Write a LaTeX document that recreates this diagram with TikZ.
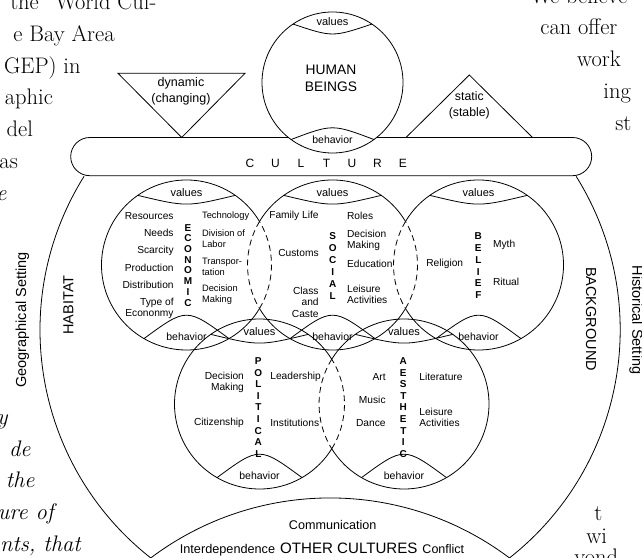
\documentclass[tikz,border=0pt]{standalone}
\usepackage{fontspec}
\newfontfamily\hv{Liberation Sans}
\usetikzlibrary{calc}
\newcommand\fsz[2]{\fontsize{#1}{#2}\selectfont}
\begin{document}
\begin{tikzpicture}[x=1pt,y=1pt,line width=0.8pt,
  every node/.style={inner sep=0pt},
  txl/.style={font={\hv\fsz{10.2}{11.3}}, anchor=east, align=right},
  txr/.style={font={\hv\fsz{10.2}{11.3}}, anchor=west, align=left},
  txs/.style={font={\hv\fsz{9.3}{11.2}}, anchor=west, align=left},
  vword/.style={font={\hv\bfseries\fsz{10}{11.6}}, align=center},
  capv/.style={font={\hv\fsz{11}{13}}},
  capb/.style={font={\hv\fsz{10.5}{13}}},
  lens/.style={dash pattern=on 6pt off 4pt},
  pagetxt/.style={font={\rmfamily\fsz{22.5}{26}}, anchor=base east},
  pageit/.style={font={\rmfamily\itshape\fsz{22.5}{26}}, anchor=base east},
  pagetxtr/.style={font={\rmfamily\fsz{22.5}{26}}, anchor=base west},
  side/.style={font={\hv\fsz{14.5}{16}}},
]
\useasboundingbox (0,0) rectangle (642,557);
\clip (0,0) rectangle (642,557);

% page text fragments
\node[pagetxt] (p1) at (156.7,547.7) {the “World Cul-};
\node[pagetxt] (p2) at (115,515.8) {e Bay Area};
\node[pagetxt] (p3) at (81,483.9) {GEP) in};
\node[pagetxt] (p4) at (53.3,452) {aphic};
\node[pagetxt] (p5) at (33.3,420.1) {del};
\node[pagetxt] (p6) at (18.3,388.2) {as};
\node[pageit] (p7) at (7,356.3) {e};
\node[pageit] (p8) at (8,132) {y};
\node[pageit] (p9) at (31,101) {de};
\node[pageit] (p10) at (35,69.2) {the};
\node[pageit] (p11) at (54,37.3) {ure of};
\node[pageit] (p12) at (81,5.4) {nts, that};
\node[pagetxtr] (q1) at (530,553) {We believe};
\node[pagetxtr] (q2) at (540,522) {can offer};
\node[pagetxtr] (q3) at (576.7,490) {work};
\node[pagetxtr] (q4) at (603,458) {ing};
\node[pagetxtr] (q5) at (615,426) {st};
\node[pagetxtr] (q6) at (594,37) {t};
\node[pagetxtr] (q7) at (586,14) {wi};
\node[pagetxtr] (q8) at (574,-7) {yond};

% culture band
\draw[rounded corners=19.1] (70.7,381.3) rectangle (591.7,419.5);
\node[font={\hv\fsz{12}{14}}] (culture) at (326.5,393.7)
  {\makebox[25.5pt]{C}\makebox[25.5pt]{U}\makebox[25.5pt]{L}\makebox[25.5pt]{T}\makebox[25.5pt]{U}\makebox[25.5pt]{R}\makebox[25.5pt]{E}};

% triangles
\draw (118,483.7) -- (245,483.7) -- (181.7,419.5) -- cycle;
\node[font={\hv\fsz{12.5}{16}}, align=center] (dyn) at (181,465.7) {dynamic\\(changing)};
\draw (406,419.5) -- (469.3,482) -- (532.5,419.5) -- cycle;
\node[font={\hv\fsz{12.3}{15.6}}, align=center] (sta) at (469.3,451.5) {static\\(stable)};

% bowl
\draw (84.07,380.68) arc[start angle=148, end angle=231.82, radius=290]
  arc[start angle=127, end angle=53, radius=298]
  arc[start angle=308.18, end angle=392, radius=290];

% human beings
\coordinate (hb) at (332.5,474.5);
\draw[fill=white] (hb) circle[radius=70.5];
\draw ($(hb)+(124:70.5)$) .. controls ($(hb)+(0,45.2)$) .. ($(hb)+(56:70.5)$);
\draw ($(hb)+(234:70.5)$) .. controls ($(hb)+(0,-41.4)$) .. ($(hb)+(306:70.5)$);
\node[capv] (hbv) at ($(hb)+(0,60.8)$) {values};
\node[capb] (hbb) at ($(hb)+(0,-57.5)$) {behavior};
\node[font={\hv\fsz{13.8}{16.7}}, align=center] (hbt) at (331,478.7) {HUMAN\\BEINGS};

% five circles
\coordinate (econ) at (186.5,292);
\coordinate (social) at (332.5,292);
\coordinate (belief) at (478.5,292);
\coordinate (polit) at (259.5,153);
\coordinate (aesth) at (404,153);

\draw (econ) ++(30.8:85) arc[start angle=30.8, end angle=329.2, radius=85];
\draw[lens] (econ) ++(-30.8:85) arc[start angle=-30.8, end angle=30.8, radius=85];
\draw (social) ++(30.8:85) arc[start angle=30.8, end angle=149.2, radius=85];
\draw (social) ++(210.8:85) arc[start angle=210.8, end angle=329.2, radius=85];
\draw[lens] (social) ++(149.2:85) arc[start angle=149.2, end angle=210.8, radius=85];
\draw[lens] (social) ++(-30.8:85) arc[start angle=-30.8, end angle=30.8, radius=85];
\draw (belief) ++(-149.2:85) arc[start angle=-149.2, end angle=149.2, radius=85];
\draw[lens] (belief) ++(149.2:85) arc[start angle=149.2, end angle=210.8, radius=85];
\draw (polit) ++(31.8:85) arc[start angle=31.8, end angle=328.2, radius=85];
\draw[lens] (polit) ++(-31.8:85) arc[start angle=-31.8, end angle=31.8, radius=85];
\draw (aesth) ++(-148.2:85) arc[start angle=-148.2, end angle=148.2, radius=85];
\draw[lens] (aesth) ++(148.2:85) arc[start angle=148.2, end angle=211.8, radius=85];

\foreach \c in {econ,social,belief,polit,aesth}{
  \draw ($(\c)+(125:85)$) .. controls ($(\c)+(0,58)$) .. ($(\c)+(55:85)$);
  \draw ($(\c)+(240:85)$) .. controls ($(\c)+(0,-42.4)$) .. ($(\c)+(300:85)$);
  \node[capv] (\c-v) at ($(\c)+(0,72.5)$) {values};
  \node[capb] (\c-b) at ($(\c)+(0,-72)$) {behavior};
}

% economic
\node[txl] (e1) at (174,341) {Resources};
\node[txl] (e2) at (174,324.3) {Needs};
\node[txl] (e3) at (174,306.3) {Scarcity};
\node[txl] (e4) at (174,288.7) {Production};
\node[txl] (e5) at (174,272) {Distribution};
\node[txl] (e6) at (174,248.7) {Type of\\Econonmy};
\node[txs] (e7) at (201.7,341.3) {Technology};
\node[txs] (e8) at (201.7,318.3) {Division of\\Labor};
\node[txs] (e9) at (201.7,290.3) {Transpor-\\tation};
\node[txs] (e10) at (201.7,262.5) {Decision\\Making};
\node[vword, font={\hv\bfseries\fsz{10}{10.7}}] (ew) at (188,291.8) {E\\C\\O\\N\\O\\M\\I\\C};

% social
\node[txl] (s1) at (319,341.3) {Family Life};
\node[txl] (s2) at (319,303.7) {Customs};
\node[txl, font={\hv\fsz{10.2}{11.2}}] (s3) at (319,254.7) {Class\\and\\Caste};
\node[txr] (s4) at (346.7,341.3) {Roles};
\node[txr] (s5) at (346.7,316.8) {Decision\\Making};
\node[txr] (s6) at (346.7,292.7) {Education};
\node[txr] (s7) at (346.7,262.8) {Leisure\\Activities};
\node[vword, font={\hv\bfseries\fsz{10}{11.9}}] (sw) at (332.7,291.2) {S\\O\\C\\I\\A\\L};

% belief
\node[font={\hv\fsz{10.2}{11.3}}] (b1) at (444.7,292.7) {Religion};
\node[txr] (b2) at (492.7,312) {Myth};
\node[txr] (b3) at (492.7,274.7) {Ritual};
\node[vword, font={\hv\bfseries\fsz{10}{11.7}}] (bw) at (478.3,291.2) {B\\E\\L\\I\\E\\F};

% political
\node[txl] (o1) at (244.3,174.5) {Decision\\Making};
\node[txl] (o2) at (244.3,133.7) {Citizenship};
\node[txr] (o3) at (270,180.3) {Leadership};
\node[txr] (o4) at (270,133.7) {Institutions};
\node[vword] (ow) at (258.3,149.5) {P\\O\\L\\I\\T\\I\\C\\A\\L};

% aesthetic
\node[txl] (a1) at (386,180.3) {Art};
\node[txl] (a2) at (386,157) {Music};
\node[txl] (a3) at (386,133.7) {Dance};
\node[txr] (a4) at (419,180.3) {Literature};
\node[txr] (a5) at (419,139.5) {Leisure\\Activities};
\node[vword] (aw) at (403.3,149.5) {A\\E\\S\\T\\H\\E\\T\\I\\C};

% sides
\node[side, rotate=90] (hab) at (68.3,252) {HABITAT};
\node[side, rotate=90] (geo) at (22.5,237) {Geographical Setting};
\node[side, rotate=-90] (bkg) at (591,238) {BACKGROUND};
\node[side, rotate=-90] (his) at (636,237) {Historical Setting};

% other cultures
\node[font={\hv\fsz{12.6}{15}}] (comm) at (332.7,32) {Communication};
\node[anchor=base, font={\hv\fsz{12.7}{15}}] (oc) at (322,4)
  {Interdependence\hspace{5pt}{\fsz{15.1}{17}OTHER CULTURES}\hspace{5pt}{\fsz{12.5}{15}Conflict}};
\end{tikzpicture}
\end{document}
